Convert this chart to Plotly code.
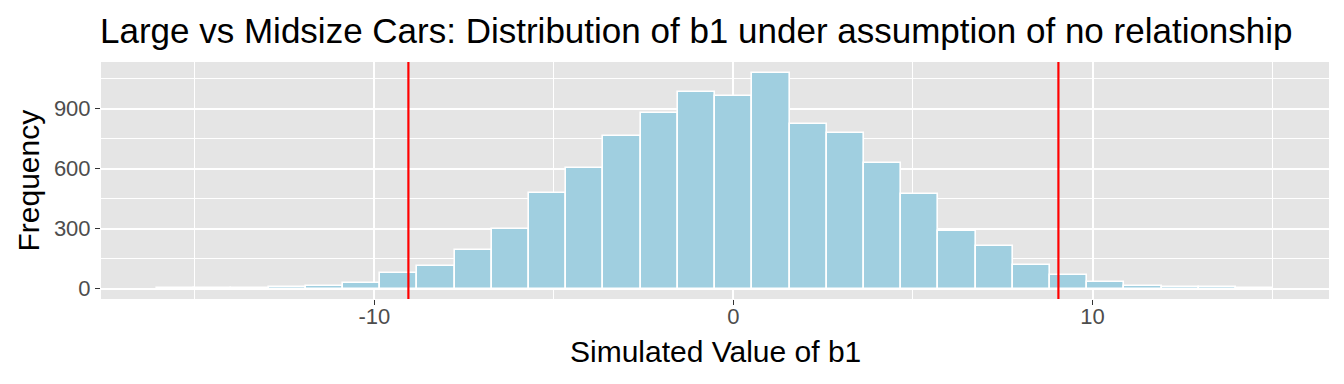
import plotly.graph_objects as go

# Histogram of simulated b1 values (bin centres and counts)
bin_centers = [-15.532, -14.496, -13.46, -12.424, -11.388, -10.352, -9.316, -8.28,
               -7.244, -6.208, -5.172, -4.136, -3.1, -2.064, -1.028, 0.008,
               1.044, 2.08, 3.116, 4.152, 5.188, 6.224, 7.26, 8.296,
               9.332, 10.368, 11.404, 12.44, 13.476, 14.512]
counts = [1, 2, 3, 7, 15, 28, 76, 113, 193, 300, 478, 603, 765, 880, 982, 965,
          1078, 825, 780, 627, 473, 290, 213, 117, 70, 33, 15, 10, 6, 3]
bin_width = 1.036

# Observed b1 and its negative (cut-off lines)
cutoffs = [-9.05, 9.05]

x_ticks = [-10, 0, 10]
x_minor = [-15, -5, 5, 15]
y_ticks = [0, 300, 600, 900]
y_minor = [150, 450, 750, 1050]

FONT = "Liberation Sans, Arial, Helvetica, sans-serif"

# the page body has an 8px margin; compensate so the figure lands at 0,0
OFF = 8
W, H = 1344 - OFF, 384 - OFF
L, R, T, B = 101 - OFF, 15, 62 - OFF, 84.5
PW = W - L - R
PH = H - T - B

fig = go.Figure()
fig.add_trace(go.Bar(
    x=bin_centers, y=counts, width=[bin_width] * len(counts),
    marker=dict(color="#a0cfe0", line=dict(color="white", width=1.6)),
    hoverinfo="x+y", showlegend=False,
))

for c in cutoffs:
    fig.add_shape(type="line", xref="x", yref="paper", x0=c, x1=c, y0=0, y1=1,
                  line=dict(color="#ff0000", width=2.2), layer="above")

fig.update_layout(
    width=W, height=H,
    margin=dict(l=L, r=R, t=T, b=B, autoexpand=False),
    paper_bgcolor="white", plot_bgcolor="#e5e5e5",
    bargap=0,
    font=dict(family=FONT, color="#4d4d4d", size=22),
    title=dict(
        text="Large vs Midsize Cars: Distribution of b1 under assumption of no relationship",
        x=(100 - OFF) / W, xanchor="left", xref="container",
        y=1 - (31 - OFF) / H, yanchor="middle", yref="container",
        font=dict(family=FONT, size=35, color="black"),
    ),
    xaxis=dict(
        range=[-17.61, 16.585], tickvals=x_ticks, ticktext=[str(v) for v in x_ticks],
        showgrid=True, gridcolor="white", gridwidth=2.2, zeroline=False,
        ticks="outside", ticklen=5, tickwidth=1.2, tickcolor="#333333",
        tickfont=dict(size=22, color="#4d4d4d"), ticklabelstandoff=-7,
        minor=dict(tickvals=x_minor, showgrid=True, gridcolor="white", gridwidth=1.1, ticklen=0),
        showline=False, automargin=False,
    ),
    yaxis=dict(
        range=[-52, 1134], tickvals=y_ticks, ticktext=[str(v) for v in y_ticks],
        showgrid=True, gridcolor="white", gridwidth=2.2, zeroline=False,
        ticks="outside", ticklen=5, tickwidth=1.2, tickcolor="#333333",
        tickfont=dict(size=22, color="#4d4d4d"),
        minor=dict(tickvals=y_minor, showgrid=True, gridcolor="white", gridwidth=1.1, ticklen=0),
        showline=False, automargin=False,
    ),
    annotations=[
        dict(text="Simulated Value of b1", xref="paper", yref="paper",
             x=0.5, y=(299.5 - 352) / PH, xanchor="center", yanchor="middle",
             showarrow=False, font=dict(family=FONT, size=30, color="black")),
        dict(text="Frequency", xref="paper", yref="paper",
             x=(28 - 101) / PW, y=0.5, xanchor="center", yanchor="middle",
             textangle=-90, showarrow=False, font=dict(family=FONT, size=30, color="black")),
    ],
)

fig.write_html("out.html")
